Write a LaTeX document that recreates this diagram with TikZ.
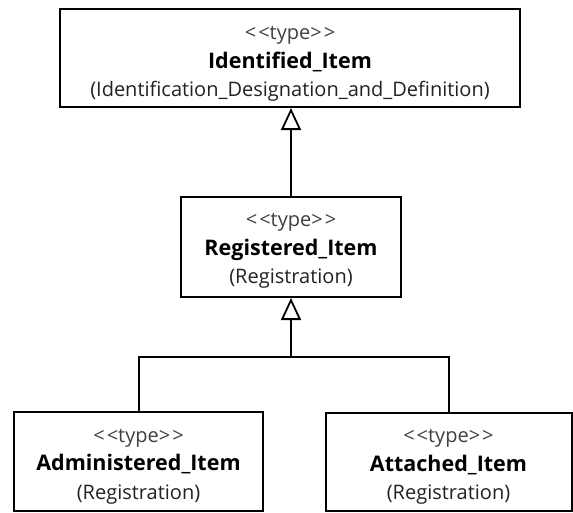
\documentclass[tikz,border=0pt]{standalone}
\usepackage{fontspec}
\setmainfont{Open Sans}
\usetikzlibrary{arrows.meta}
\definecolor{stereo}{HTML}{404040}
\definecolor{pkgtext}{HTML}{222222}
\newcommand{\stereotype}{{\color{stereo}<\kern2pt<type>\kern2pt>}}
\newcommand{\classname}[1]{{\bfseries\fontsize{21.5}{28.5}\selectfont #1}}
\newcommand{\pkgname}[1]{{\color{pkgtext}(#1)}}
\tikzset{
  classbox/.style={draw=black, line width=2pt, fill=white, inner sep=0pt},
  classtext/.style={inner sep=0pt, align=center, font=\fontsize{20}{28.5}\selectfont},
  generalize/.style={line width=2pt, -{Triangle[open, width=20pt, length=22pt, line width=1.8pt]}},
  assoc/.style={line width=2pt}
}
\begin{document}
\begin{tikzpicture}[x=1pt, y=-1pt]
  \useasboundingbox (0,0) rectangle (573,512);

  % class boxes
  \node[classbox, minimum width=460pt, minimum height=98pt] (ident) at (290,58) {};
  \node[classbox, minimum width=220pt, minimum height=100pt] (reg) at (291,247) {};
  \node[classbox, minimum width=249pt, minimum height=99pt] (admin) at (138.5,461.5) {};
  \node[classbox, minimum width=246pt, minimum height=98pt] (attach) at (448.5,462) {};

  % class compartments: stereotype, name, package
  \node[classtext] (ident-text) at ([yshift=-6pt]ident.center)
    {\stereotype\\ \classname{Identified\_Item}\\ \pkgname{Identification\_Designation\_and\_Definition}};
  \node[classtext] (reg-text) at ([yshift=-4pt]reg.center)
    {\stereotype\\ \classname{Registered\_Item}\\ \pkgname{Registration}};
  \node[classtext] (admin-text) at ([yshift=-5pt]admin.center)
    {\stereotype\\ \classname{Administered\_Item}\\ \pkgname{Registration}};
  \node[classtext] (attach-text) at ([yshift=-5pt]attach.center)
    {\stereotype\\ \classname{Attached\_Item}\\ \pkgname{Registration}};

  % generalization: Registered_Item -> Identified_Item
  \draw[generalize] (reg.north) -- (reg.north |- ident.south);

  % shared generalization tree: subclasses -> Registered_Item
  \coordinate (junction) at (291,357);
  \draw[assoc] (admin.north) |- (junction) -| (attach.north);
  \draw[generalize] (junction) -- (reg.south);
\end{tikzpicture}
\end{document}
